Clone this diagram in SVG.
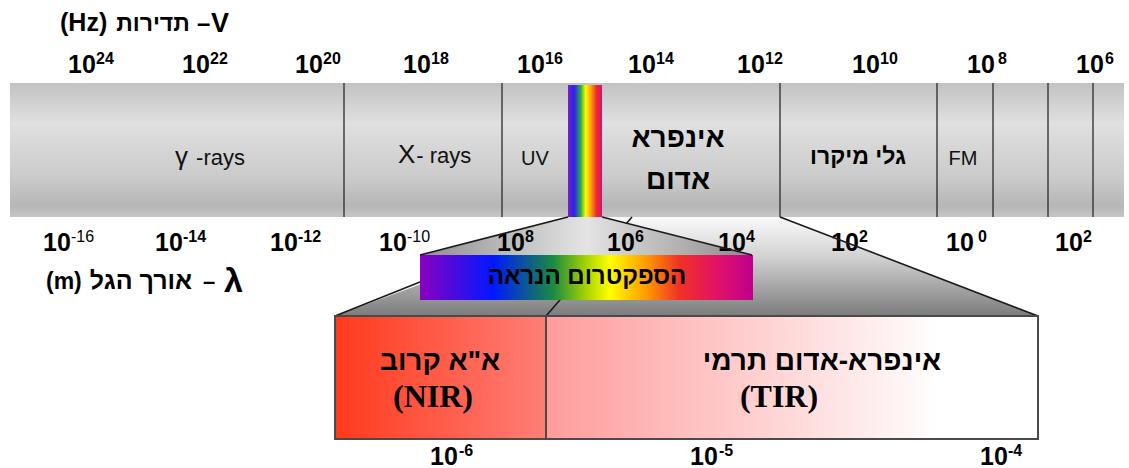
<svg xmlns="http://www.w3.org/2000/svg" width="1129" height="468" viewBox="0 0 1129 468">
<defs>
<linearGradient id="barG" x1="0" y1="0" x2="0" y2="1">
<stop offset="0" stop-color="#c2c2c2"/>
<stop offset="0.3" stop-color="#e0e0e0"/>
<stop offset="0.7" stop-color="#cbcbcb"/>
<stop offset="0.92" stop-color="#b6b6b6"/>
<stop offset="1" stop-color="#c6c6c6"/>
</linearGradient>
<linearGradient id="rainbowG" x1="0" y1="0" x2="1" y2="0">
<stop offset="0" stop-color="#7a20c8"/>
<stop offset="0.18" stop-color="#2a20f0"/>
<stop offset="0.38" stop-color="#30b040"/>
<stop offset="0.52" stop-color="#ffff00"/>
<stop offset="0.68" stop-color="#ff9a10"/>
<stop offset="0.84" stop-color="#ee2a2a"/>
<stop offset="1" stop-color="#d0107a"/>
</linearGradient>
<linearGradient id="visG" x1="0" y1="0" x2="1" y2="0">
<stop offset="0" stop-color="#8a00c0"/>
<stop offset="0.22" stop-color="#0018ff"/>
<stop offset="0.4" stop-color="#1a8a40"/>
<stop offset="0.5" stop-color="#a8d400"/>
<stop offset="0.57" stop-color="#ffff00"/>
<stop offset="0.68" stop-color="#ff9a00"/>
<stop offset="0.78" stop-color="#f03028"/>
<stop offset="0.9" stop-color="#e0106a"/>
<stop offset="1" stop-color="#c0008c"/>
</linearGradient>
<linearGradient id="fun2G" x1="0" y1="217" x2="0" y2="316" gradientUnits="userSpaceOnUse">
<stop offset="0" stop-color="#fafafa"/>
<stop offset="0.4" stop-color="#d2d2d2"/>
<stop offset="1" stop-color="#7c7c7c"/>
</linearGradient>
<linearGradient id="fun1G" x1="420" y1="0" x2="752" y2="0" gradientUnits="userSpaceOnUse">
<stop offset="0" stop-color="#8e8e8e"/>
<stop offset="0.5" stop-color="#e4e4e4"/>
<stop offset="1" stop-color="#8a8a8a"/>
</linearGradient>
<linearGradient id="nirG" x1="0" y1="0" x2="1" y2="0">
<stop offset="0" stop-color="#ff3a1c"/>
<stop offset="1" stop-color="#ff7e76"/>
</linearGradient>
<linearGradient id="tirG" x1="0" y1="0" x2="1" y2="0">
<stop offset="0" stop-color="#ff9c9c"/>
<stop offset="0.72" stop-color="#fff4f4"/>
<stop offset="0.8" stop-color="#ffffff"/>
<stop offset="1" stop-color="#ffffff"/>
</linearGradient>
</defs>
<style>
.num{font-family:"Liberation Sans",Arial,sans-serif;font-weight:bold;font-size:25px;fill:#000}
.sup{font-family:"Liberation Sans",Arial,sans-serif;font-weight:bold;font-size:16px;fill:#000}
.supn{font-family:"Liberation Sans",Arial,sans-serif;font-weight:normal;font-size:16px;fill:#000}
.heb{font-family:"Liberation Sans","DejaVu Sans",sans-serif;font-weight:bold;fill:#000}
.lbl{font-family:"Liberation Sans",Arial,sans-serif;fill:#111}
.ser{font-family:"Liberation Serif","Times New Roman",serif;font-weight:bold;fill:#000}
.div{stroke:#2a2a2a;stroke-width:1.3}
.edge{stroke:#1a1a1a;stroke-width:1.6;fill:none}
.box{stroke:#4a4a4a;stroke-width:2}
</style>

<!-- titles -->
<g id="freq-title">
<text class="heb" x="60" y="31" font-size="25">(Hz)</text>
<text class="heb" x="153" y="31" font-size="23" text-anchor="middle" direction="rtl">תדירות</text>
<text class="heb" x="197" y="31" font-size="24">–</text>
<text class="heb" x="211" y="32" font-size="27">V</text>
</g>
<g id="wave-title">
<text class="heb" x="46" y="289" font-size="23">(m)</text>
<text class="heb" x="141" y="289" font-size="25" text-anchor="middle" direction="rtl">אורך הגל</text>
<text class="heb" x="203" y="289" font-size="22">–</text>
<text class="heb" x="224" y="292" font-size="34">λ</text>
</g>

<!-- top frequency labels -->
<g id="freq-labels">
<text class="num" x="68" y="73">10</text><text class="sup" x="96" y="64">24</text>
<text class="num" x="182" y="73">10</text><text class="sup" x="210" y="64">22</text>
<text class="num" x="295" y="73">10</text><text class="sup" x="323" y="64">20</text>
<text class="num" x="403" y="73">10</text><text class="sup" x="431" y="64">18</text>
<text class="num" x="517" y="73">10</text><text class="sup" x="545" y="64">16</text>
<text class="num" x="628" y="73">10</text><text class="sup" x="656" y="64">14</text>
<text class="num" x="737" y="73">10</text><text class="sup" x="765" y="64">12</text>
<text class="num" x="852" y="73">10</text><text class="sup" x="880" y="64">10</text>
<text class="num" x="967" y="73">10</text><text class="sup" x="998" y="64">8</text>
<text class="num" x="1076" y="73">10</text><text class="sup" x="1105" y="64">6</text>
</g>

<!-- main bar -->
<g id="spectrum-bar">
<rect x="10" y="83" width="1114" height="134" fill="url(#barG)"/>
<rect x="568" y="85" width="34" height="132" fill="url(#rainbowG)"/>
<line class="div" x1="344" y1="83" x2="344" y2="217"/>
<line class="div" x1="502" y1="83" x2="502" y2="217"/>
<line class="div" x1="780" y1="83" x2="780" y2="217"/>
<line class="div" x1="937" y1="83" x2="937" y2="217"/>
<line class="div" x1="993" y1="83" x2="993" y2="217"/>
<line class="div" x1="1048" y1="83" x2="1048" y2="217"/>
<line class="div" x1="1093" y1="83" x2="1093" y2="217"/>
</g>
<g id="band-gamma"><text class="lbl" x="175" y="165" font-size="26">γ<tspan font-size="22" dx="2"> -rays</tspan></text></g>
<g id="band-xray"><text class="lbl" x="398" y="163" font-size="26">X<tspan font-size="22" dx="1">- rays</tspan></text></g>
<g id="band-uv"><text class="lbl" x="535" y="165" font-size="20" text-anchor="middle">UV</text></g>
<g id="band-ir">
<text class="heb" x="678" y="147" font-size="28" text-anchor="middle" direction="rtl">אינפרא</text>
<text class="heb" x="678" y="189" font-size="28" text-anchor="middle" direction="rtl">אדום</text>
</g>
<g id="band-micro"><text class="heb" x="858" y="164" font-size="23" text-anchor="middle" direction="rtl" style="font-weight:600">גלי מיקרו</text></g>
<g id="band-fm"><text class="lbl" x="963" y="165" font-size="20" text-anchor="middle">FM</text></g>

<!-- funnels -->
<g id="funnel-fills">
<polygon points="601,217 780,217 1038,316 335,316" fill="url(#fun2G)"/>
</g>
<g id="connectors-under">
<line class="edge" x1="632" y1="217" x2="546" y2="316" stroke-width="1.2"/>
</g>
<g id="funnel-small">
<polygon points="568,217 602,217 752,255 420,255" fill="url(#fun1G)"/>
</g>

<!-- bottom wavelength labels -->
<g id="wave-labels">
<text class="num" x="43" y="251">10</text><text class="supn" x="71" y="242">-16</text>
<text class="num" x="155" y="251">10</text><text class="sup" x="183" y="242">-14</text>
<text class="num" x="270" y="251">10</text><text class="sup" x="298" y="242">-12</text>
<text class="num" x="379" y="251">10</text><text class="supn" x="407" y="242">-10</text>
<text class="num" x="497" y="251">10</text><text class="sup" x="525" y="242">8</text>
<text class="num" x="607" y="251">10</text><text class="sup" x="635" y="242">6</text>
<text class="num" x="718" y="251">10</text><text class="sup" x="746" y="242">4</text>
<text class="num" x="831" y="251">10</text><text class="sup" x="859" y="242">2</text>
<text class="num" x="946" y="251">10</text><text class="sup" x="978" y="242">0</text>
<text class="num" x="1055" y="251">10</text><text class="sup" x="1083" y="242">2</text>
</g>

<!-- visible bar -->
<g id="visible-spectrum">
<rect x="420" y="255" width="333" height="45" fill="url(#visG)"/>
<text class="heb" x="587" y="284" font-size="24" text-anchor="middle" direction="rtl">הספקטרום הנראה</text>
</g>

<g id="connectors">
<line class="edge" x1="568" y1="217" x2="420" y2="255"/>
<line class="edge" x1="602" y1="217" x2="752" y2="255"/>
<line class="edge" x1="780" y1="217" x2="1038" y2="316"/>
<line class="edge" x1="420" y1="282" x2="335" y2="316"/>
</g>

<!-- IR box -->
<g id="nir">
<rect class="box" x="335" y="316" width="211" height="123" fill="url(#nirG)"/>
<text class="heb" x="440" y="370" font-size="28" text-anchor="middle" direction="rtl">א"א קרוב</text>
<text class="ser" x="433" y="407" font-size="32" text-anchor="middle">(NIR)</text>
</g>
<g id="tir">
<rect class="box" x="546" y="316" width="492" height="123" fill="url(#tirG)"/>
<text class="heb" x="822" y="370" font-size="28" text-anchor="middle" direction="rtl">אינפרא-אדום תרמי</text>
<text class="ser" x="779" y="407" font-size="32" text-anchor="middle">(TIR)</text>
</g>
<g id="box-labels">
<text class="num" x="430" y="465">10</text><text class="sup" x="459" y="456">-6</text>
<text class="num" x="690" y="465">10</text><text class="sup" x="719" y="456">-5</text>
<text class="num" x="980" y="465">10</text><text class="sup" x="1008" y="456">-4</text>
</g>
</svg>
